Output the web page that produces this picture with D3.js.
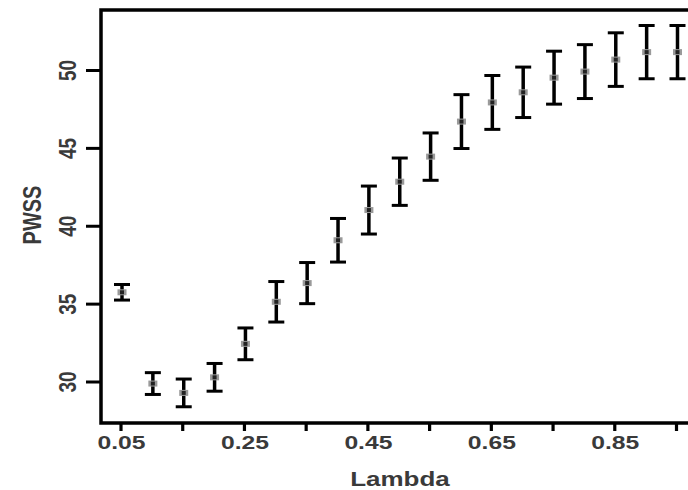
<!DOCTYPE html>
<html>
<head>
<meta charset="utf-8">
<script src="https://cdn.jsdelivr.net/npm/d3@7"></script>
<style>
  body { margin: 0; background: #fff; }
  text { font-family: "Liberation Sans", Arial, sans-serif; fill: #3a3a3a; font-weight: bold; }
</style>
</head>
<body>
<div id="chart"></div>
<script>
// data
const lambdas = [0.05, 0.10, 0.15, 0.20, 0.25, 0.30, 0.35, 0.40, 0.45, 0.50,
                 0.55, 0.60, 0.65, 0.70, 0.75, 0.80, 0.85, 0.90, 0.95];
const pwss = [35.76, 29.9, 29.3, 30.3, 32.45, 35.15, 36.35, 39.1, 41.04, 42.86,
              44.47, 46.72, 47.95, 48.6, 49.54, 49.93, 50.7, 51.18, 51.18];
const errs = [0.5, 0.7, 0.89, 0.89, 1.02, 1.3, 1.32, 1.4, 1.54, 1.52,
              1.52, 1.73, 1.73, 1.62, 1.7, 1.73, 1.72, 1.71, 1.71];
const xTicks = [0.05, 0.15, 0.25, 0.35, 0.45, 0.55, 0.65, 0.75, 0.85, 0.95];
const xLabels = ["0.05", "0.25", "0.45", "0.65", "0.85"];
const yTicks = [30, 35, 40, 45, 50];

const data = lambdas.map((l, i) => ({ l: l, v: pwss[i], e: errs[i] }));

const width = 688, height = 490;
const frameLeft = 101, frameTop = 10, frameBottom = 423, frameRight = 700;
const stretch = 1.3;

const svg = d3.select('#chart').append('svg')
    .attr('width', width)
    .attr('height', height);

const x = d3.scaleLinear().domain([0.05, 0.95]).range([122, 677.5]);
const y = d3.scaleLinear().domain([30, 50]).range([382, 70.5]);

// frame (right side runs off the picture)
svg.append('path')
    .attr('d', `M${frameRight},${frameTop}H${frameLeft}V${frameBottom}H${frameRight}`)
    .attr('fill', 'none')
    .attr('stroke', '#000')
    .attr('stroke-width', 3.5);

// y ticks + labels
const yAxisG = svg.append('g');
yAxisG.selectAll('line').data(yTicks).enter().append('line')
    .attr('x1', 86).attr('x2', frameLeft)
    .attr('y1', d => y(d)).attr('y2', d => y(d))
    .attr('stroke', '#000').attr('stroke-width', 3);
yAxisG.selectAll('text').data(yTicks).enter().append('text')
    .attr('transform', d => `translate(76,${y(d)}) scale(${stretch},1) rotate(-90)`)
    .attr('text-anchor', 'middle')
    .attr('font-size', 19)
    .text(d => d);

// x ticks + labels
const xAxisG = svg.append('g');
xAxisG.selectAll('line').data(xTicks).enter().append('line')
    .attr('x1', d => x(d) - 1).attr('x2', d => x(d) - 1)
    .attr('y1', frameBottom).attr('y2', 431)
    .attr('stroke', '#000').attr('stroke-width', 3.2);
xAxisG.selectAll('text').data(xLabels).enter().append('text')
    .attr('transform', d => `translate(${x(+d) - 0.5},449) scale(${stretch},1)`)
    .attr('text-anchor', 'middle')
    .attr('font-size', 19)
    .text(d => d);

// axis titles
svg.append('text')
    .attr('transform', `translate(400,486) scale(${stretch},1)`)
    .attr('text-anchor', 'middle')
    .attr('font-size', 20)
    .text('Lambda');
svg.append('text')
    .attr('transform', `translate(41,215) scale(${stretch},1) rotate(-90)`)
    .attr('text-anchor', 'middle')
    .attr('font-size', 20)
    .text('PWSS');

// error bars
const capW = 8;
const bars = svg.append('g').attr('stroke', '#000');
bars.selectAll('line.stem').data(data).enter().append('line')
    .attr('class', 'stem')
    .attr('x1', d => x(d.l)).attr('x2', d => x(d.l))
    .attr('y1', d => y(d.v + d.e)).attr('y2', d => y(d.v - d.e))
    .attr('stroke-width', 3.5);
bars.selectAll('line.capTop').data(data).enter().append('line')
    .attr('class', 'capTop')
    .attr('x1', d => x(d.l) - capW).attr('x2', d => x(d.l) + capW)
    .attr('y1', d => y(d.v + d.e)).attr('y2', d => y(d.v + d.e))
    .attr('stroke-width', 3);
bars.selectAll('line.capBot').data(data).enter().append('line')
    .attr('class', 'capBot')
    .attr('x1', d => x(d.l) - capW).attr('x2', d => x(d.l) + capW)
    .attr('y1', d => y(d.v - d.e)).attr('y2', d => y(d.v - d.e))
    .attr('stroke-width', 3);

// points
const pts = svg.append('g');
pts.selectAll('rect.halo').data(data).enter().append('rect')
    .attr('class', 'halo')
    .attr('x', d => x(d.l) - 4.5).attr('y', d => y(d.v) - 3)
    .attr('width', 9).attr('height', 6)
    .attr('fill', '#9a9a9a');
pts.selectAll('rect.core').data(data).enter().append('rect')
    .attr('class', 'core')
    .attr('x', d => x(d.l) - 2).attr('y', d => y(d.v) - 2)
    .attr('width', 4).attr('height', 4)
    .attr('fill', '#222');
</script>
</body>
</html>
